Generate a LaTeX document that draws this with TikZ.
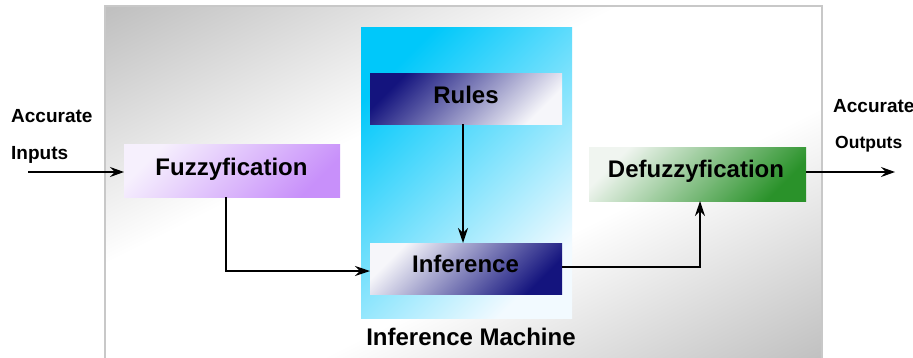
\documentclass[tikz,border=0pt]{standalone}
\usepackage{fontspec}
\setmainfont{Liberation Sans}
\usetikzlibrary{arrows.meta,calc}
\definecolor{outergray}{HTML}{C0C0C0}
\definecolor{framegray}{HTML}{C8C8C8}
\definecolor{cyanA}{HTML}{00C8FA}
\definecolor{cyanB}{HTML}{F2FAFF}
\definecolor{navyA}{HTML}{14147E}
\definecolor{navyM}{HTML}{9A9ABE}
\definecolor{navyW}{HTML}{F6F6FA}
\definecolor{purpleA}{HTML}{C890FA}
\definecolor{purpleW}{HTML}{F6F0FD}
\definecolor{greenA}{HTML}{2A922A}
\definecolor{greenW}{HTML}{F0F5F0}
\pgfdeclareverticalshading{panelshade}{100bp}{%
  color(0bp)=(outergray); color(15bp)=(outergray); color(40bp)=(white);
  color(60bp)=(white); color(85bp)=(outergray); color(100bp)=(outergray)}
\begin{document}
\begin{tikzpicture}[x=1pt,y=-1pt,
  box/.style={inner sep=0pt,outer sep=0pt,draw=none},
  lbl/.style={inner sep=0pt,anchor=base,font=\fontsize{24}{24}\selectfont\bfseries},
  side/.style={inner sep=0pt,anchor=base west,font=\fontsize{19}{19}\selectfont\bfseries},
  conn/.style={line width=1.7pt,-{Stealth[length=15pt,width=10pt,inset=5pt]}},
  ioarrow/.style={line width=1.3pt,-{Stealth[length=14pt,width=10pt,inset=5pt]}}
]
\useasboundingbox (0,0) rectangle (913,357);
% outer panel: a square diagonal shading stretched over the panel
\begin{scope}[transform canvas={shift={(105,6)},xscale=7.17,yscale=3.59}]
  \shade[shading=panelshade,shading angle=45] (0,0) rectangle (100,100);
\end{scope}
\node[box,minimum width=717pt,minimum height=359pt] (panel) at (463.5,185.5) {};
\draw[framegray,line width=1.3pt] (panel.south west) -- (panel.north west) -- (panel.north east) -- (panel.south east);
% inference machine panel
\node[box,minimum width=211pt,minimum height=291pt,
  shade,top color=cyanA,bottom color=cyanB,shading angle=45] (mach) at (466.5,172.5) {};
% boxes
\node[box,minimum width=192pt,minimum height=51pt,
  shade,top color=navyA,middle color=navyM,bottom color=navyW,shading angle=45] (rules) at (466,98.5) {};
\node[box,minimum width=192pt,minimum height=51pt,
  shade,top color=navyW,middle color=navyM,bottom color=navyA,shading angle=45] (infer) at (466,268.5) {};
\node[box,minimum width=216pt,minimum height=53pt,
  shade,top color=purpleW,bottom color=purpleA,shading angle=45] (fuzzy) at (232,170.5) {};
\node[box,minimum width=217pt,minimum height=54pt,
  shade,top color=greenW,bottom color=greenA,shading angle=45] (defuzzy) at (697.5,174) {};
% labels
\node[lbl] (trules) at (466,103) {Rules};
\node[lbl] (tinfer) at (465.5,272.5) {Inference};
\node[lbl] (tfuzzy) at (231.5,175) {Fuzzyfication};
\node[lbl] (tdefuzzy) at (696,177) {Defuzzyfication};
\node[lbl] (tmach) at (471,345) {Inference Machine};
\node[side] (tacc1) at (11,122) {Accurate};
\node[side] (tin) at (11,159) {Inputs};
\node[side] (tacc2) at (833,112) {Accurate};
\node[side,font=\fontsize{17.5}{17.5}\selectfont\bfseries] (tout) at (835,148) {Outputs};
% connectors
\coordinate (inS) at (28,172);
\coordinate (outE) at (895,172);
\draw[ioarrow] (inS) -- (inS -| fuzzy.west);
\draw[ioarrow] (outE -| defuzzy.east) -- (outE);
\coordinate (fz) at (226,271);
\draw[conn] (fz |- fuzzy.south) -- (fz) -- (fz -| infer.west);
\coordinate (rz) at (463,0);
\draw[conn] (rz |- rules.south) -- (rz |- infer.north);
\coordinate (dz) at (700,267);
\draw[conn] (dz -| infer.east) -- (dz) -- (dz |- defuzzy.south);
\end{tikzpicture}
\end{document}
